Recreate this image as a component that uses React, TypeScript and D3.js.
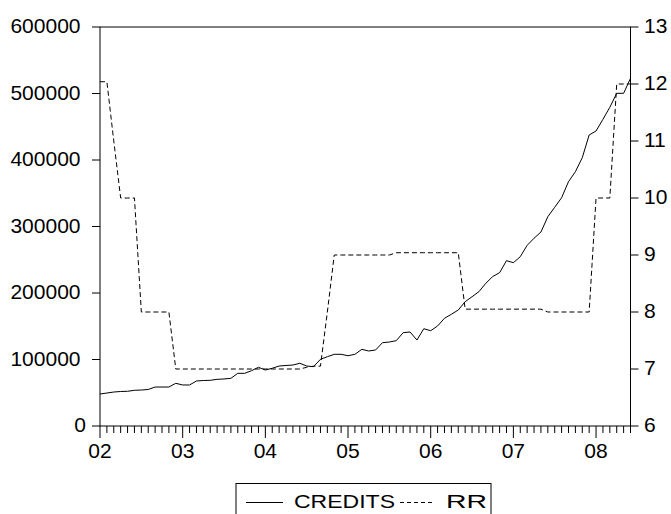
import React from 'react';
import * as d3 from 'd3';

// monthly observations, 2002M01 .. 2008M06
const credits = [
  48100, 49600, 51100, 51900, 52200, 53700, 54100, 54900, 58600, 58600,
  58600, 64200, 61700, 61700, 67700, 68400, 68700, 70200, 70700, 71700,
  79200, 79200, 83200, 88300, 84200, 86800, 90200, 91000, 91700, 94300,
  90200, 89200, 100300, 104200, 107800, 107800, 105700, 107800, 115300, 112800,
  114300, 125300, 126300, 128300, 140300, 141400, 129300, 146300, 143300, 150400,
  162000, 168000, 174400, 186900, 194400, 202000, 214600, 224800, 230500, 248600,
  245600, 254600, 271700, 282300, 291700, 314700, 328900, 343300, 367400, 382400,
  403500, 437600, 443600, 461200, 479300, 500300, 500300, 522900,
];

const rr = [
  12.04, 12.04, 11, 10, 10, 10, 8, 8, 8, 8,
  8, 7, 7, 7, 7, 7, 7, 7, 7, 7,
  7, 7, 7, 7, 7, 7, 7, 7, 7, 7,
  7.03, 7.05, 7.05, 8, 9, 9, 9, 9, 9, 9,
  9, 9, 9, 9.04, 9.04, 9.04, 9.04, 9.04, 9.04, 9.04,
  9.04, 9.04, 9.04, 8.05, 8.05, 8.05, 8.05, 8.05, 8.05, 8.05,
  8.05, 8.05, 8.05, 8.05, 8.05, 8, 8, 8, 8, 8,
  8, 8, 10, 10, 10, 12, 12, 12,
];

const yearLabels = ['02', '03', '04', '05', '06', '07', '08'];
const leftTicks = [0, 100000, 200000, 300000, 400000, 500000, 600000];
const rightTicks = [6, 7, 8, 9, 10, 11, 12, 13];

const font = '"Liberation Sans", Arial, sans-serif';

export default function App() {
  const width = 671;
  const height = 514;
  const margin = { top: 27, right: 40.5, bottom: 88, left: 100 };

  const x = d3.scaleLinear()
    .domain([0, credits.length - 1])
    .range([margin.left, width - margin.right]);
  const yL = d3.scaleLinear()
    .domain([0, 600000])
    .range([height - margin.bottom, margin.top]);
  const yR = d3.scaleLinear()
    .domain([6, 13])
    .range([height - margin.bottom, margin.top]);

  const creditLine = d3.line<number>()
    .x((d, i) => x(i))
    .y(d => yL(d));
  const rrLine = d3.line<number>()
    .x((d, i) => x(i))
    .y(d => yR(d));

  const x0 = x.range()[0];
  const x1 = x.range()[1];
  const yb = yL.range()[0];
  const yt = yL.range()[1];

  return (
    <svg width={width} height={height} style={{ position: 'absolute', left: 0, top: 0 }}
      fontFamily={font}>
      <rect x={0} y={0} width={width} height={height} fill="#fff" />

      {/* frame */}
      <rect x={x0} y={yt} width={x1 - x0} height={yb - yt} fill="none" stroke="#000" strokeWidth={1} />

      {/* left axis */}
      {leftTicks.map(t => (
        <g key={'l' + t}>
          <line x1={x0 - 8} x2={x0} y1={yL(t)} y2={yL(t)} stroke="#000" />
          <text x={t === 0 ? 86 : 80.5} y={yL(t) + 6} textAnchor="end" fontSize={21}>{t}</text>
        </g>
      ))}

      {/* right axis */}
      {rightTicks.map(t => (
        <g key={'r' + t}>
          <line x1={x1} x2={x1 + 8} y1={yR(t)} y2={yR(t)} stroke="#000" />
          <text x={x1 + 13.5} y={yR(t) + 6} textAnchor="start" fontSize={21}>{t}</text>
        </g>
      ))}

      {/* bottom axis: month ticks, year labels */}
      {credits.map((d, i) => (
        <line key={'m' + i} x1={x(i)} x2={x(i)} y1={yb} y2={yb + (i % 12 === 0 ? 12 : 7)} stroke="#000" />
      ))}
      {yearLabels.map((lab, k) => (
        <text key={lab} x={x(k * 12)} y={458} textAnchor="middle" fontSize={21}>{lab}</text>
      ))}

      {/* series */}
      <path d={rrLine(rr) || ''} fill="none" stroke="#000" strokeWidth={1} strokeDasharray="5,3" />
      <path d={creditLine(credits) || ''} fill="none" stroke="#000" strokeWidth={1} />

      {/* legend */}
      <rect x={236} y={483.5} width={255} height={40} fill="none" stroke="#000" />
      <line x1={246} x2={283} y1={502.5} y2={502.5} stroke="#000" />
      <text x={294} y={508} fontSize={19} textLength={101} lengthAdjust="spacingAndGlyphs">CREDITS</text>
      <line x1={400} x2={433} y1={502.5} y2={502.5} stroke="#000" strokeDasharray="4,3" />
      <text x={446} y={508} fontSize={19} textLength={41} lengthAdjust="spacingAndGlyphs">RR</text>
    </svg>
  );
}
